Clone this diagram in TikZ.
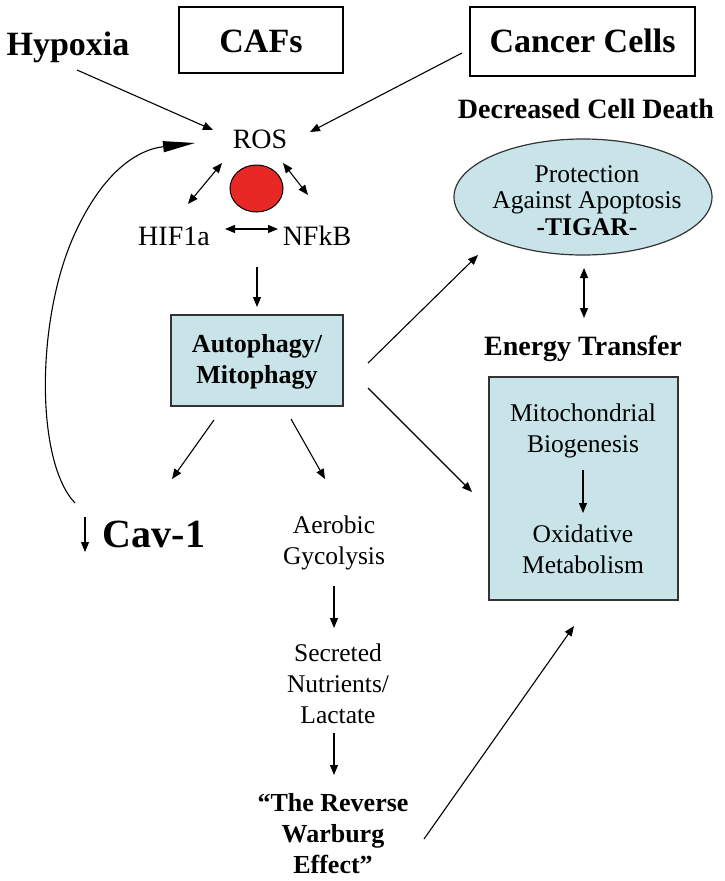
\documentclass[tikz,border=0pt]{standalone}
\usepackage{fontspec}
\setmainfont{Liberation Serif}
\usetikzlibrary{arrows.meta,shapes.geometric}
\definecolor{boxblue}{RGB}{200,228,232}
\definecolor{cellred}{RGB}{232,40,36}
\tikzset{
  arr/.style={line width=1.1pt,-{Triangle[length=10pt,width=8pt]}},
  darr/.style={line width=1.1pt,{Triangle[length=10pt,width=8pt]}-{Triangle[length=10pt,width=8pt]}},
  txt/.style={font=\fontsize{25.5}{31}\selectfont,align=center,inner sep=0pt,anchor=base},
  ctxt/.style={font=\fontsize{28}{32}\selectfont,inner sep=0pt,anchor=base},
  btxt/.style={font=\bfseries\fontsize{26}{31}\selectfont,align=center,inner sep=0pt,anchor=base},
  title/.style={font=\bfseries\fontsize{34}{40}\selectfont,inner sep=0pt},
  bluebox/.style={draw=black!80,line width=1.2pt,fill=boxblue,inner sep=0pt},
}
\begin{document}
\begin{tikzpicture}[x=1pt,y=-1pt]
\useasboundingbox (0,0) rectangle (724,881);
% top row
\node[title,anchor=base] (hyp) at (68,55) {Hypoxia};
\node[draw,line width=1.5pt,minimum width=164pt,minimum height=66pt,inner sep=0pt] (cafs) at (261,40) {};
\node[title,anchor=base] (cafst) at (261,52) {CAFs};
\node[draw,line width=1.5pt,minimum width=225pt,minimum height=69pt,inner sep=0pt] (cancer) at (582.5,41.5) {};
\node[title,anchor=base] (cancert) at (582.5,52) {Cancer Cells};
\node[font=\bfseries\fontsize{28}{32}\selectfont,inner sep=0pt,anchor=base] (dcd) at (586,118) {Decreased Cell Death};
% ROS cluster
\node[ctxt] (ros) at (260,148) {ROS};
\node[draw=black,line width=1pt,fill=cellred,ellipse,minimum width=53pt,minimum height=47pt,inner sep=0pt] (dot) at (256.5,188.5) {};
\node[ctxt] (hif) at (174,245) {HIF1a};
\node[ctxt] (nfkb) at (317,245) {NFkB};
\coordinate (rl1) at (222,163); \coordinate (rl2) at (188,204);
\coordinate (rr1) at (283,163); \coordinate (rr2) at (308,195);
\coordinate (hn1) at (225,229); \coordinate (hn2) at (278,229);
\draw[darr] (rl1) -- (rl2);
\draw[darr] (rr1) -- (rr2);
\draw[darr] (hn1) -- (hn2);
\coordinate (hypA) at (77,70); \coordinate (hypB) at (213,130);
\coordinate (canA) at (462,53); \coordinate (canB) at (310,132);
\draw[arr] (hypA) -- (hypB);
\draw[arr] (canA) -- (canB);
% autophagy
\node[bluebox,minimum width=172pt,minimum height=91pt] (auto) at (257,360.5) {};
\node[btxt] (autot) at (257,383) {Autophagy/\\Mitophagy};
\coordinate (ra) at (257,267); \coordinate (rb) at (257,307);
\draw[arr] (ra) -- (rb);
% Cav-1
\node[font=\bfseries\fontsize{40}{44}\selectfont,inner sep=0pt,anchor=base] (cav) at (154,547) {Cav-1};
\coordinate (cd1) at (85,517); \coordinate (cd2) at (85,552);
\draw[arr] (cd1) -- (cd2);
\coordinate (ac1) at (214,420); \coordinate (ac2) at (172,479);
\draw[arr] (ac1) -- (ac2);
\coordinate (ag1) at (291,419); \coordinate (ag2) at (325,479);
\draw[arr] (ag1) -- (ag2);
% feedback curve
\coordinate (fb1) at (75,503); \coordinate (fb2) at (195,143);
\draw[line width=1.1pt,-{Triangle[length=32pt,width=11pt]}] (fb1) .. controls (36,462) and (36,325) .. (72,240) .. controls (100,175) and (135,150) .. (fb2);
% glycolysis column
\node[txt] (aer) at (334,564) {Aerobic\\Gycolysis};
\coordinate (g1) at (334,586); \coordinate (g2) at (334,628);
\draw[arr] (g1) -- (g2);
\node[txt] (sec) at (338,723) {Secreted\\Nutrients/\\Lactate};
\coordinate (s1) at (334,733); \coordinate (s2) at (334,775);
\draw[arr] (s1) -- (s2);
\node[btxt] (rwe) at (333,873) {``The Reverse\\Warburg\\Effect''};
% right column
\node[draw=black!80,line width=1.2pt,fill=boxblue,ellipse,minimum width=258pt,minimum height=116pt,inner sep=0pt] (prot) at (583,197) {};
\node[txt,font=\fontsize{25.5}{26.5}\selectfont] (prott) at (587,235) {Protection\\Against Apoptosis\\\textbf{-TIGAR-}};
\coordinate (pe1) at (584,268); \coordinate (pe2) at (584,318);
\draw[darr] (pe1) -- (pe2);
\node[font=\bfseries\fontsize{28}{32}\selectfont,inner sep=0pt,anchor=base] (et) at (583,355) {Energy Transfer};
\node[bluebox,minimum width=189pt,minimum height=223pt] (mito) at (583.5,488.5) {};
\node[txt] (mitot) at (583,452) {Mitochondrial\\Biogenesis};
\coordinate (m1) at (583,470); \coordinate (m2) at (583,513);
\draw[arr] (m1) -- (m2);
\node[txt] (oxt) at (583,573) {Oxidative\\Metabolism};
\coordinate (ap1) at (368,363); \coordinate (ap2) at (478,255);
\draw[arr] (ap1) -- (ap2);
\coordinate (am1) at (368,388); \coordinate (am2) at (472,492);
\draw[arr] (am1) -- (am2);
\coordinate (w1) at (424,839); \coordinate (w2) at (574,626);
\draw[arr] (w1) -- (w2);
\end{tikzpicture}
\end{document}
